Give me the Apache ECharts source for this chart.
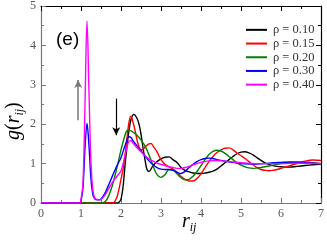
<!DOCTYPE html>
<html><head><meta charset="utf-8">
<script src="https://cdn.jsdelivr.net/npm/echarts@6/dist/echarts.min.js"></script>
<style>html,body{margin:0;padding:0;background:#fff}#c{width:327px;height:242px}</style>
</head><body><div id="c"></div>
<script>
// r values and g(r) values for each density
const r010 = [0,1.9,1.95,2.0,2.05,2.1,2.15,2.2,2.25,2.32,2.4,2.45,2.5,2.55,2.6,2.65,2.7,2.8,2.9,3.0,3.1,3.2,3.3,3.4,3.5,3.6,3.7,3.8,3.9,4.0,4.1,4.2,4.3,4.4,4.5,4.6,4.7,4.8,4.9,5.0,5.1,5.2,5.3,5.4,5.5,5.6,5.7,5.8,5.9,6.0,6.2,6.4,6.6,6.8,7.0];
const g010 = [0,0,0.02,0.1,0.4,0.95,1.45,1.85,2.12,2.25,2.15,2.0,1.75,1.4,1.1,0.85,0.8,0.95,1.05,1.12,1.16,1.17,1.1,1.03,0.9,0.83,0.79,0.76,0.75,0.75,0.76,0.78,0.81,0.86,0.94,1.02,1.1,1.18,1.25,1.29,1.3,1.27,1.22,1.15,1.08,1.02,0.98,0.95,0.93,0.92,0.91,0.93,0.95,0.97,0.99];
const r015 = [0,1.8,1.85,1.9,1.95,2.0,2.05,2.1,2.15,2.2,2.25,2.3,2.35,2.4,2.45,2.5,2.55,2.6,2.7,2.75,2.8,2.9,3.0,3.1,3.2,3.3,3.4,3.5,3.6,3.7,3.8,3.9,4.0,4.1,4.2,4.3,4.4,4.5,4.6,4.7,4.8,4.9,5.0,5.1,5.2,5.3,5.4,5.5,5.6,5.7,5.8,5.9,6.0,6.2,6.4,6.6,6.8,7.0];
const g015 = [0,0,0.05,0.15,0.35,0.6,0.85,1.2,1.65,2.05,2.2,2.05,1.85,1.6,1.42,1.35,1.36,1.42,1.5,1.51,1.45,1.3,1.1,0.98,0.92,0.86,0.78,0.68,0.6,0.56,0.56,0.62,0.74,0.9,1.05,1.18,1.28,1.35,1.39,1.4,1.35,1.27,1.2,1.13,1.05,0.97,0.9,0.85,0.83,0.82,0.83,0.85,0.88,0.94,1.0,1.06,1.09,1.08];
const r020 = [0,1.5,1.6,1.7,1.8,1.9,2.0,2.1,2.15,2.2,2.3,2.4,2.5,2.6,2.7,2.8,2.9,3.0,3.1,3.2,3.3,3.4,3.5,3.6,3.7,3.8,3.9,4.0,4.1,4.2,4.3,4.4,4.5,4.6,4.7,4.8,4.9,5.0,5.1,5.2,5.3,5.4,5.5,5.6,5.8,6.0,6.2,6.4,6.6,6.8,7.0];
const g020 = [0,0,0.03,0.2,0.5,0.9,1.35,1.72,1.84,1.85,1.8,1.72,1.6,1.45,1.22,0.95,0.72,0.65,0.72,0.85,0.84,0.74,0.64,0.59,0.6,0.68,0.8,0.95,1.1,1.23,1.31,1.34,1.32,1.26,1.18,1.1,1.02,0.96,0.92,0.89,0.88,0.89,0.9,0.92,0.96,1.0,1.03,1.04,1.04,1.02,1.0];
const r030 = [0,0.97,1.0,1.05,1.1,1.15,1.2,1.25,1.3,1.35,1.4,1.45,1.5,1.6,1.7,1.8,1.9,2.0,2.1,2.2,2.25,2.3,2.4,2.5,2.6,2.7,2.8,2.9,3.0,3.1,3.2,3.3,3.4,3.5,3.6,3.7,3.8,3.9,4.0,4.1,4.2,4.3,4.4,4.6,4.8,5.0,5.2,5.4,5.6,5.8,6.0,6.2,6.5,7.0];
const g030 = [0,0,0.05,0.4,1.4,2.02,1.45,0.6,0.2,0.1,0.08,0.08,0.1,0.25,0.48,0.72,0.95,1.15,1.45,1.68,1.66,1.58,1.45,1.33,1.2,1.07,0.97,0.9,0.86,0.85,0.85,0.83,0.78,0.75,0.8,0.9,0.98,1.05,1.1,1.13,1.14,1.13,1.1,1.06,1.03,1.0,0.99,0.99,1.0,1.02,1.03,1.04,1.03,1.0];
const r040 = [0,0.97,1.0,1.05,1.1,1.15,1.2,1.25,1.3,1.35,1.4,1.45,1.5,1.6,1.7,1.8,1.9,2.0,2.1,2.2,2.25,2.3,2.4,2.5,2.6,2.7,2.8,2.9,3.0,3.1,3.2,3.3,3.4,3.5,3.6,3.7,3.8,3.9,4.0,4.2,4.4,4.6,4.8,5.0,5.4,6.0,6.5,7.0];
const g040 = [0,0,0.1,0.5,2.5,4.62,2.8,1.0,0.3,0.12,0.09,0.08,0.09,0.2,0.38,0.55,0.68,0.82,1.2,1.57,1.58,1.52,1.4,1.3,1.2,1.12,1.06,1.01,0.98,0.95,0.92,0.9,0.88,0.88,0.9,0.93,0.97,1.0,1.03,1.07,1.08,1.06,1.04,1.02,1.0,1.0,1.01,1.0];
const seriesNames = ['ρ = 0.10','ρ = 0.15','ρ = 0.20','ρ = 0.30','ρ = 0.40'];
const seriesColors = ['#000000','#ff0000','#008000','#0000ff','#ff00ff'];
const xTickLabels = ['0','1','2','3','4','5','6','7'];
const yTickLabels = ['0','1','2','3','4','5'];
// annotation arrows: [x, yFrom, yTo]
const arrowUp = [0.93, 2.1, 3.12];
const arrowDown = [1.88, 2.65, 1.72];

const rs = [r010,r015,r020,r030,r040];
const gs = [g010,g015,g020,g030,g040];
const serif = 'Liberation Serif';
const chart = echarts.init(document.getElementById('c'), null, {renderer:'canvas'});
const series = seriesNames.map((n,i)=>({
  name:n, type:'line', showSymbol:false, symbol:'none', smooth:0.35,
  lineStyle:{width:1.4,color:seriesColors[i]}, itemStyle:{color:seriesColors[i]},
  data: rs[i].map((x,j)=>[x,gs[i][j]]), z: 2+i
}));
series.push({
  type:'line', data:[], silent:true,
  markLine:{silent:true, symbol:['none','arrow'], symbolSize:[6,8], label:{show:false},
    data:[
      [{coord:[arrowUp[0],arrowUp[1]],lineStyle:{color:'#777',width:1.5,type:'solid'}},{coord:[arrowUp[0],arrowUp[2]]}],
      [{coord:[arrowDown[0],arrowDown[1]],lineStyle:{color:'#000',width:1.2,type:'solid'}},{coord:[arrowDown[0],arrowDown[2]]}]
    ]}
});
const axisCommon = (pos,show,color)=>({
  position:pos, min:0, interval:1,
  axisLine:{show:true,onZero:false,lineStyle:{color:color,width:1.2}},
  axisTick:{show:true,inside:true,length:5,lineStyle:{color:color}},
  minorTick:{show:true,splitNumber:2,length:3,lineStyle:{color:color}},
  splitLine:{show:false}, minorSplitLine:{show:false},
  axisLabel:{show:show,color:'#555',fontFamily:serif,fontSize:12}
});
const xb = Object.assign(axisCommon('bottom',true,'#777'),{type:'value',max:7,axisLabel:{show:true,color:'#555',fontFamily:serif,fontSize:12,margin:5,formatter:v=>xTickLabels[v]}});
const xt = Object.assign(axisCommon('top',false,'#000'),{type:'value',max:7});
const yl = Object.assign(axisCommon('left',true,'#777'),{type:'value',max:5,axisLabel:{show:true,color:'#555',fontFamily:serif,fontSize:12,margin:5,formatter:v=>yTickLabels[v]}});
const yr = Object.assign(axisCommon('right',false,'#000'),{type:'value',max:5});
chart.setOption({
  animation:false,
  grid:{left:41,top:5,right:4,bottom:39,containLabel:false},
  xAxis:[xb,xt], yAxis:[yl,yr],
  legend:{data:seriesNames, orient:'vertical', left:241, top:18, itemWidth:21, itemHeight:2, itemGap:0,
    icon:'rect', textStyle:{fontFamily:serif,fontSize:12.5,color:'#333',lineHeight:13.7,padding:[0,0,0,1]}},
  series: series,
  graphic:[
    {type:'text', left:56, top:30, style:{text:'(e)', font:'19px "Liberation Sans"', fill:'#000'}},
    {type:'text', left:182, top:212, style:{rich:{r:{font:'italic 20px "Liberation Serif"',fill:'#000'},s:{font:'italic 12px "Liberation Serif"',fill:'#000',padding:[12,0,0,0]}}, text:'{r|r}{s|ij}'}},
    {type:'text', x:2, y:140, rotation:Math.PI/2, style:{rich:{r:{font:'italic 20px "Liberation Serif"',fill:'#000'},s:{font:'italic 12px "Liberation Serif"',fill:'#000',padding:[12,0,0,0]},p:{font:'20px "Liberation Serif"',fill:'#000'}}, text:'{r|g}{p|(}{r|r}{s|ij}{p|)}'}}
  ]
});
</script></body></html>
